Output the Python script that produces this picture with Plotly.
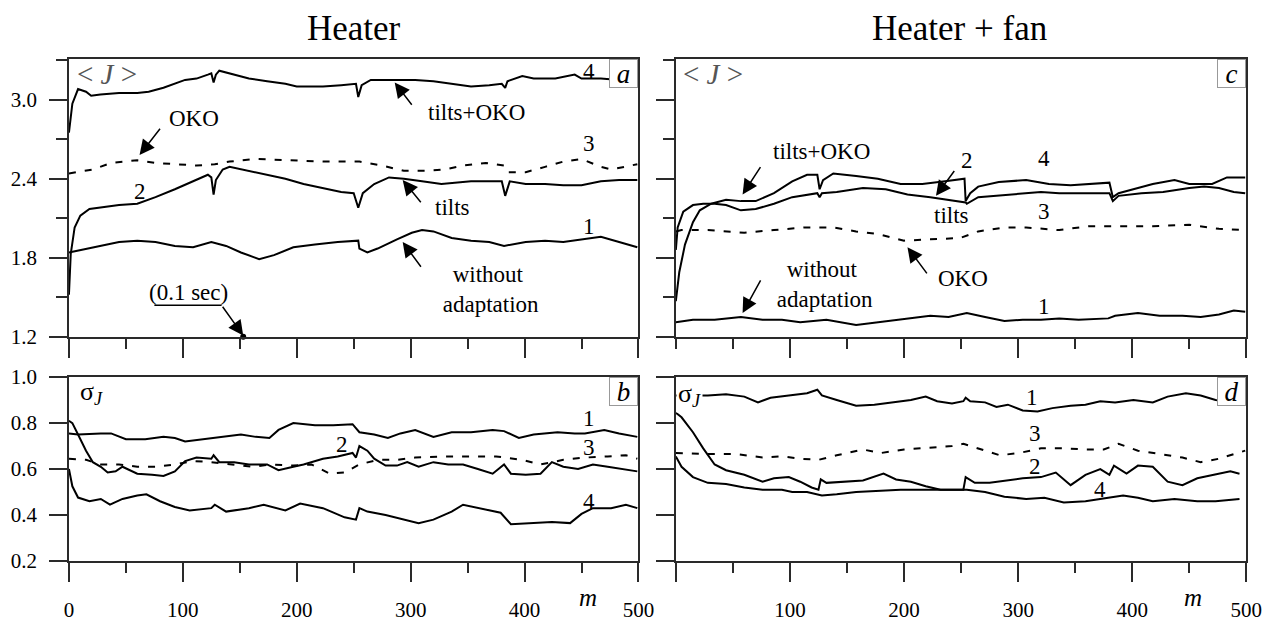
import plotly.graph_objects as go

# ---------------- data ----------------
# Panel a: Heater, <J>
a1_x = [0,11,28,44,60,76,93,109,125,138,151,167,180,197,216,236,254,255,262,271,288,301,310,320,336,353,369,382,401,418,434,450,467,483,499]
a1_y = [1.84,1.86,1.89,1.92,1.93,1.92,1.89,1.88,1.92,1.89,1.84,1.79,1.82,1.88,1.90,1.92,1.93,1.87,1.84,1.87,1.94,1.99,2.01,2.00,1.95,1.93,1.92,1.89,1.92,1.93,1.92,1.94,1.96,1.92,1.88]
a2_x = [0,1.6,5,10,18,28,44,60,76,93,109,122,125,127,129,135,141,158,174,190,206,223,239,250,254,258,268,281,294,310,327,353,369,380,383,387,401,418,434,450,467,483,499]
a2_y = [1.52,1.83,2.03,2.12,2.17,2.18,2.20,2.21,2.26,2.32,2.38,2.43,2.41,2.28,2.39,2.47,2.49,2.46,2.43,2.40,2.36,2.33,2.30,2.29,2.18,2.29,2.36,2.41,2.40,2.38,2.36,2.38,2.38,2.38,2.27,2.38,2.36,2.36,2.35,2.35,2.38,2.39,2.39]
a3_x = [0,21,37,60,76,93,112,128,141,164,190,223,255,275,294,314,330,346,366,382,385,401,418,434,450,467,476,499]
a3_y = [2.44,2.47,2.52,2.54,2.52,2.51,2.50,2.51,2.53,2.55,2.54,2.53,2.53,2.50,2.46,2.46,2.47,2.50,2.52,2.50,2.45,2.45,2.49,2.53,2.55,2.49,2.47,2.51]
a4_x = [0,3,8,15,19.5,27.6,44,60,70,83,102,112,122,125,127,129,132,141,158,174,190,200,223,239,252,254,257,265,281,304,320,336,353,369,380,383,385,398,408,427,444,450,467,483,499]
a4_y = [2.75,2.97,3.08,3.06,3.03,3.04,3.05,3.05,3.06,3.09,3.15,3.16,3.19,3.20,3.13,3.19,3.22,3.20,3.16,3.14,3.12,3.10,3.10,3.11,3.12,3.02,3.11,3.15,3.15,3.15,3.14,3.12,3.10,3.11,3.12,3.09,3.14,3.18,3.16,3.16,3.19,3.16,3.16,3.15,3.16]

# Panel b: Heater, sigma_J
b1_x = [0,8,28,37,50,67,83,93,102,119,132,151,164,176,184,197,216,232,249,255,268,280,291,304,320,336,353,372,382,395,408,429,444,453,470,483,499]
b1_y = [0.755,0.75,0.755,0.755,0.73,0.73,0.74,0.735,0.72,0.73,0.74,0.75,0.74,0.735,0.77,0.80,0.79,0.79,0.795,0.76,0.75,0.735,0.755,0.77,0.74,0.76,0.76,0.77,0.765,0.735,0.75,0.76,0.755,0.755,0.77,0.755,0.74]
b2_x = [0,3,8,15,21,28,34,41,47,60,73,83,93,102,112,125,127,132,145,158,174,184,197,206,223,236,249,252,255,262,268,278,288,297,307,320,333,346,359,372,382,388,401,414,424,434,447,460,473,486,499]
b2_y = [0.81,0.80,0.75,0.68,0.63,0.61,0.585,0.59,0.61,0.58,0.575,0.57,0.59,0.635,0.65,0.645,0.66,0.63,0.63,0.62,0.62,0.595,0.61,0.62,0.645,0.655,0.67,0.65,0.70,0.68,0.645,0.615,0.615,0.63,0.61,0.63,0.62,0.62,0.60,0.58,0.62,0.58,0.575,0.58,0.63,0.61,0.60,0.62,0.61,0.60,0.59]
b3_x = [0,15,28,44,60,76,93,109,125,145,161,177,197,213,229,242,255,271,288,304,330,353,375,398,414,434,453,473,489,499]
b3_y = [0.645,0.64,0.62,0.62,0.61,0.61,0.62,0.635,0.63,0.62,0.61,0.62,0.615,0.62,0.58,0.585,0.62,0.64,0.64,0.65,0.655,0.655,0.655,0.64,0.62,0.64,0.65,0.655,0.66,0.645]
b4_x = [0,3,8,18,28,36,47,60,68,80,93,106,125,128,138,158,171,190,203,223,242,252,255,262,278,294,307,320,336,346,359,379,388,405,424,440,450,460,476,489,499]
b4_y = [0.60,0.525,0.476,0.46,0.47,0.445,0.47,0.485,0.49,0.46,0.435,0.42,0.43,0.445,0.415,0.43,0.445,0.42,0.45,0.43,0.39,0.38,0.43,0.415,0.40,0.38,0.365,0.38,0.415,0.445,0.43,0.41,0.36,0.365,0.37,0.365,0.405,0.43,0.43,0.445,0.43]

# Panel c: Heater + fan, <J>
c1_x = [0,15,34,57,76,93,109,132,158,177,197,223,239,255,271,288,304,320,336,353,379,385,405,424,444,460,476,489,499]
c1_y = [1.31,1.33,1.33,1.35,1.33,1.33,1.31,1.33,1.29,1.31,1.33,1.36,1.35,1.38,1.35,1.32,1.33,1.33,1.34,1.33,1.34,1.36,1.38,1.36,1.36,1.35,1.37,1.40,1.39]
c2_x = [0,1.6,6.5,15,24,34,44,57,70,86,102,115,124,126,128,141,164,184,203,223,239,254,255,265,281,304,320,336,353,369,380,383,388,408,427,450,463,476,489,499]
c2_y = [1.86,2.03,2.15,2.20,2.21,2.21,2.20,2.16,2.17,2.21,2.26,2.28,2.29,2.26,2.29,2.30,2.33,2.32,2.28,2.26,2.24,2.22,2.21,2.26,2.27,2.29,2.30,2.29,2.29,2.29,2.29,2.23,2.27,2.29,2.30,2.33,2.34,2.33,2.30,2.29]
c3_x = [0,5,28,60,86,112,138,158,177,200,223,249,265,288,307,336,362,385,418,450,476,499]
c3_y = [2.00,2.01,2.01,1.99,2.01,2.03,2.03,2.00,1.98,1.93,1.94,1.95,2.00,2.03,2.03,2.01,2.04,2.04,2.04,2.05,2.02,2.01]
c4_x = [0,3,8,15,21,31,44,57,70,86,102,115,124,126,129,138,158,177,197,216,236,253,254,258,265,283,307,327,346,366,380,383,388,405,418,437,450,470,483,499]
c4_y = [1.47,1.69,1.90,2.07,2.16,2.21,2.24,2.23,2.23,2.29,2.38,2.43,2.43,2.32,2.39,2.44,2.42,2.40,2.36,2.36,2.38,2.40,2.23,2.29,2.34,2.375,2.39,2.36,2.35,2.36,2.37,2.26,2.29,2.33,2.36,2.39,2.36,2.36,2.41,2.41]

# Panel d: Heater + fan, sigma_J
d1_x = [0,28,44,60,72,83,99,115,124,128,141,158,174,190,206,219,229,242,252,254,258,271,281,291,304,317,330,346,359,372,385,401,418,431,447,460,473,483]
d1_y = [0.92,0.92,0.925,0.915,0.89,0.91,0.92,0.93,0.945,0.92,0.90,0.875,0.88,0.89,0.90,0.915,0.895,0.885,0.895,0.91,0.895,0.89,0.87,0.88,0.855,0.85,0.865,0.875,0.88,0.895,0.89,0.90,0.89,0.915,0.93,0.92,0.90,0.895]
d2_x = [0,5,15,24,34,44,60,76,86,99,109,119,125,127,132,148,164,182,193,206,219,232,252,254,262,275,288,304,320,333,346,359,372,380,384,395,405,418,431,444,457,473,486,494]
d2_y = [0.845,0.825,0.76,0.69,0.62,0.595,0.575,0.545,0.56,0.565,0.545,0.52,0.51,0.555,0.54,0.545,0.55,0.58,0.555,0.545,0.525,0.51,0.51,0.565,0.54,0.54,0.55,0.56,0.565,0.585,0.53,0.575,0.60,0.575,0.615,0.58,0.615,0.61,0.545,0.53,0.56,0.575,0.59,0.58]
d3_x = [0,28,54,76,93,109,125,141,164,180,200,223,242,252,268,284,301,320,340,359,375,388,405,424,444,460,476,499]
d3_y = [0.67,0.665,0.665,0.65,0.655,0.645,0.64,0.66,0.685,0.67,0.685,0.695,0.70,0.71,0.685,0.66,0.67,0.69,0.69,0.685,0.685,0.71,0.68,0.665,0.65,0.63,0.645,0.68]
d4_x = [0,5,15,28,44,60,76,93,102,115,128,141,158,177,197,216,236,255,271,288,307,323,340,359,379,392,405,418,437,457,473,494]
d4_y = [0.655,0.61,0.565,0.54,0.535,0.52,0.51,0.51,0.50,0.50,0.485,0.49,0.50,0.505,0.51,0.51,0.51,0.51,0.50,0.48,0.47,0.475,0.455,0.46,0.475,0.485,0.475,0.46,0.47,0.46,0.46,0.47]

# marker for "(0.1 sec)"
sec_x = [153]
sec_y = [1.2]

titles = ["Heater", "Heater + fan"]
x_ticks = [0, 100, 200, 300, 400, 500]

# ---------------- figure ----------------
W, H = 1283, 622
FONT = "Liberation Serif, Times New Roman, DejaVu Serif, serif"
INK = "#2a2a2a"

def dx(p):
    return p / W

def dy(p):
    return 1 - p / H

left_dom = [dx(65), dx(644)]
right_dom = [dx(682), dx(1262)]
top_dom = [dy(339), dy(49)]
bot_dom = [dy(573), dy(381)]

fig = go.Figure()

def line_trace(x, y, k, dashed=False):
    return go.Scatter(
        x=x, y=y, mode="lines", xaxis="x" + k, yaxis="y" + k,
        line=dict(color="black", width=2, dash="7px,9px" if dashed else "solid"),
        showlegend=False, hoverinfo="skip",
    )

for (xs, ys, dashed) in [(a1_x, a1_y, False), (a2_x, a2_y, False), (a3_x, a3_y, True), (a4_x, a4_y, False)]:
    fig.add_trace(line_trace(xs, ys, "", dashed))
for (xs, ys, dashed) in [(b1_x, b1_y, False), (b2_x, b2_y, False), (b3_x, b3_y, True), (b4_x, b4_y, False)]:
    fig.add_trace(line_trace(xs, ys, "2", dashed))
for (xs, ys, dashed) in [(c1_x, c1_y, False), (c2_x, c2_y, False), (c3_x, c3_y, True), (c4_x, c4_y, False)]:
    fig.add_trace(line_trace(xs, ys, "3", dashed))
for (xs, ys, dashed) in [(d1_x, d1_y, False), (d2_x, d2_y, False), (d3_x, d3_y, True), (d4_x, d4_y, False)]:
    fig.add_trace(line_trace(xs, ys, "4", dashed))

fig.add_trace(go.Scatter(x=sec_x, y=sec_y, mode="markers", xaxis="x", yaxis="y",
                         marker=dict(color="black", size=6), cliponaxis=False,
                         showlegend=False, hoverinfo="skip"))

tick_font = dict(family=FONT, size=21, color="black")

def xaxis(dom, anchor, labels, left):
    ticktext = [str(v) for v in x_ticks] if left else [""] + [str(v) for v in x_ticks[1:]]
    return dict(
        domain=dom, anchor=anchor, range=[0, 500], showgrid=False, zeroline=False,
        showline=True, linecolor=INK, linewidth=1.5, mirror=True,
        ticks="outside", ticklen=19, tickwidth=1.5, tickcolor=INK,
        tickmode="array", tickvals=x_ticks, ticktext=ticktext,
        showticklabels=labels, tickfont=tick_font, ticklabelstandoff=10,
        minor=dict(ticks="outside", ticklen=10, tickwidth=1.5, tickcolor=INK, dtick=50, tick0=0, showgrid=False),
    )

def yaxis(dom, anchor, rng, dtick, minor, labels):
    d = dict(
        domain=dom, anchor=anchor, range=rng, showgrid=False, zeroline=False,
        showline=True, linecolor=INK, linewidth=1.5, mirror=True,
        ticks="outside", ticklen=18, tickwidth=1.5, tickcolor=INK,
        tick0=rng[0], dtick=dtick, tickformat=".1f",
        showticklabels=labels, tickfont=tick_font, ticklabelstandoff=8,
    )
    if minor:
        d["minor"] = dict(ticks="outside", ticklen=11, tickwidth=1.5, tickcolor=INK,
                          dtick=dtick / 2, tick0=rng[0], showgrid=False)
    return d

top_rng = [1.2, 3.309]
bot_rng = [0.2, 1.0]

fig.update_layout(
    width=W, height=H, margin=dict(l=0, r=0, t=0, b=0),
    paper_bgcolor="white", plot_bgcolor="white",
    font=dict(family=FONT, color="black"),
    xaxis=xaxis(left_dom, "y", False, True),
    yaxis=yaxis(top_dom, "x", top_rng, 0.6, True, True),
    xaxis2=xaxis(left_dom, "y2", True, True),
    yaxis2=yaxis(bot_dom, "x2", bot_rng, 0.2, False, True),
    xaxis3=xaxis(right_dom, "y3", False, False),
    yaxis3=yaxis(top_dom, "x3", top_rng, 0.6, True, False),
    xaxis4=xaxis(right_dom, "y4", True, False),
    yaxis4=yaxis(bot_dom, "x4", bot_rng, 0.2, False, False),
)

ann = []

def txt(text, x, y, k, size=23, color="black", **kw):
    d = dict(text=text, x=x, y=y, xref="x" + k, yref="y" + k, showarrow=False,
             xanchor="center", yanchor="middle",
             font=dict(family=FONT, size=size, color=color))
    d.update(kw)
    return d

def arrow(hx, hy, tx, ty, k):
    return dict(text="", x=hx, y=hy, ax=tx, ay=ty, xref="x" + k, yref="y" + k,
                axref="x" + k, ayref="y" + k, showarrow=True, arrowhead=2,
                arrowsize=2.0, arrowwidth=1.5, arrowcolor="black", standoff=0)

def box(letter, k):
    return dict(text="<i>%s</i>" % letter, x=1, y=1, xref="x%s domain" % k, yref="y%s domain" % k,
                xanchor="right", yanchor="top", showarrow=False, bgcolor="white",
                bordercolor="#999", borderwidth=1, borderpad=1, width=25, height=25,
                font=dict(family=FONT, size=27, color="black"))

# titles
for t, px in zip(titles, [355, 970]):
    ann.append(dict(text=t, x=dx(px), y=dy(17), xref="paper", yref="paper", showarrow=False,
                    xanchor="center", yanchor="middle",
                    font=dict(family=FONT, size=35, color="black")))

# m labels
for k, xv in [("2", 456), ("4", 453)]:
    ann.append(dict(text="<i>m</i>", x=xv, y=dy(611), xref="x" + k, yref="paper", showarrow=False,
                    xanchor="center", yanchor="middle",
                    font=dict(family=FONT, size=25, color="black")))

# panel a
ann += [
    txt("&lt; <i>J</i> &gt;", 33, 3.195, "", size=29, color="#555"),
    box("a", ""),
    txt("4", 457, 3.21, ""),
    txt("tilts+OKO", 358, 2.90, ""),
    arrow(286, 3.13, 302, 2.95, ""),
    txt("OKO", 110, 2.86, ""),
    arrow(62, 2.58, 81, 2.79, ""),
    txt("3", 457, 2.67, ""),
    txt("2", 62, 2.30, ""),
    txt("tilts", 337, 2.18, ""),
    arrow(293, 2.39, 310, 2.21, ""),
    txt("1", 457, 2.04, ""),
    txt("without<br> adaptation", 368, 1.56, ""),
    arrow(293, 1.92, 310, 1.72, ""),
    txt("(0.1 sec)", 105, 1.54, ""),
    arrow(153, 1.21, 134, 1.44, ""),
]
# panel b
ann += [
    txt("σ<sub><i>J</i></sub>", 20, 0.93, "2", size=26),
    box("b", "2"),
    txt("1", 457, 0.82, "2"),
    txt("2", 240, 0.705, "2"),
    txt("3", 457, 0.695, "2"),
    txt("4", 457, 0.46, "2"),
]
# panel c
ann += [
    txt("&lt; <i>J</i> &gt;", 33, 3.195, "3", size=29, color="#555"),
    box("c", "3"),
    txt("tilts+OKO", 128, 2.61, "3"),
    arrow(58.5, 2.28, 75, 2.50, "3"),
    txt("2", 255, 2.54, "3"),
    arrow(228, 2.27, 245, 2.47, "3"),
    txt("4", 323, 2.55, "3"),
    txt("tilts", 242, 2.12, "3"),
    txt("3", 323, 2.15, "3"),
    txt("OKO", 252, 1.64, "3"),
    arrow(203, 1.88, 221, 1.67, "3"),
    txt("without<br> adaptation", 128, 1.60, "3"),
    arrow(58.5, 1.38, 75, 1.64, "3"),
    txt("1", 323, 1.43, "3"),
]
# panel d
ann += [
    txt("σ<sub><i>J</i></sub>", 12, 0.92, "4", size=26, bgcolor="white"),
    box("d", "4"),
    txt("1", 312, 0.91, "4"),
    txt("3", 315, 0.755, "4"),
    txt("2", 315, 0.61, "4"),
    txt("4", 372, 0.51, "4"),
]

fig.update_layout(annotations=ann)
fig.add_shape(type="line", x0=75, x1=134, y0=1.44, y1=1.44, xref="x", yref="y",
              line=dict(color="black", width=1.5))

fig.write_html("out.html")
